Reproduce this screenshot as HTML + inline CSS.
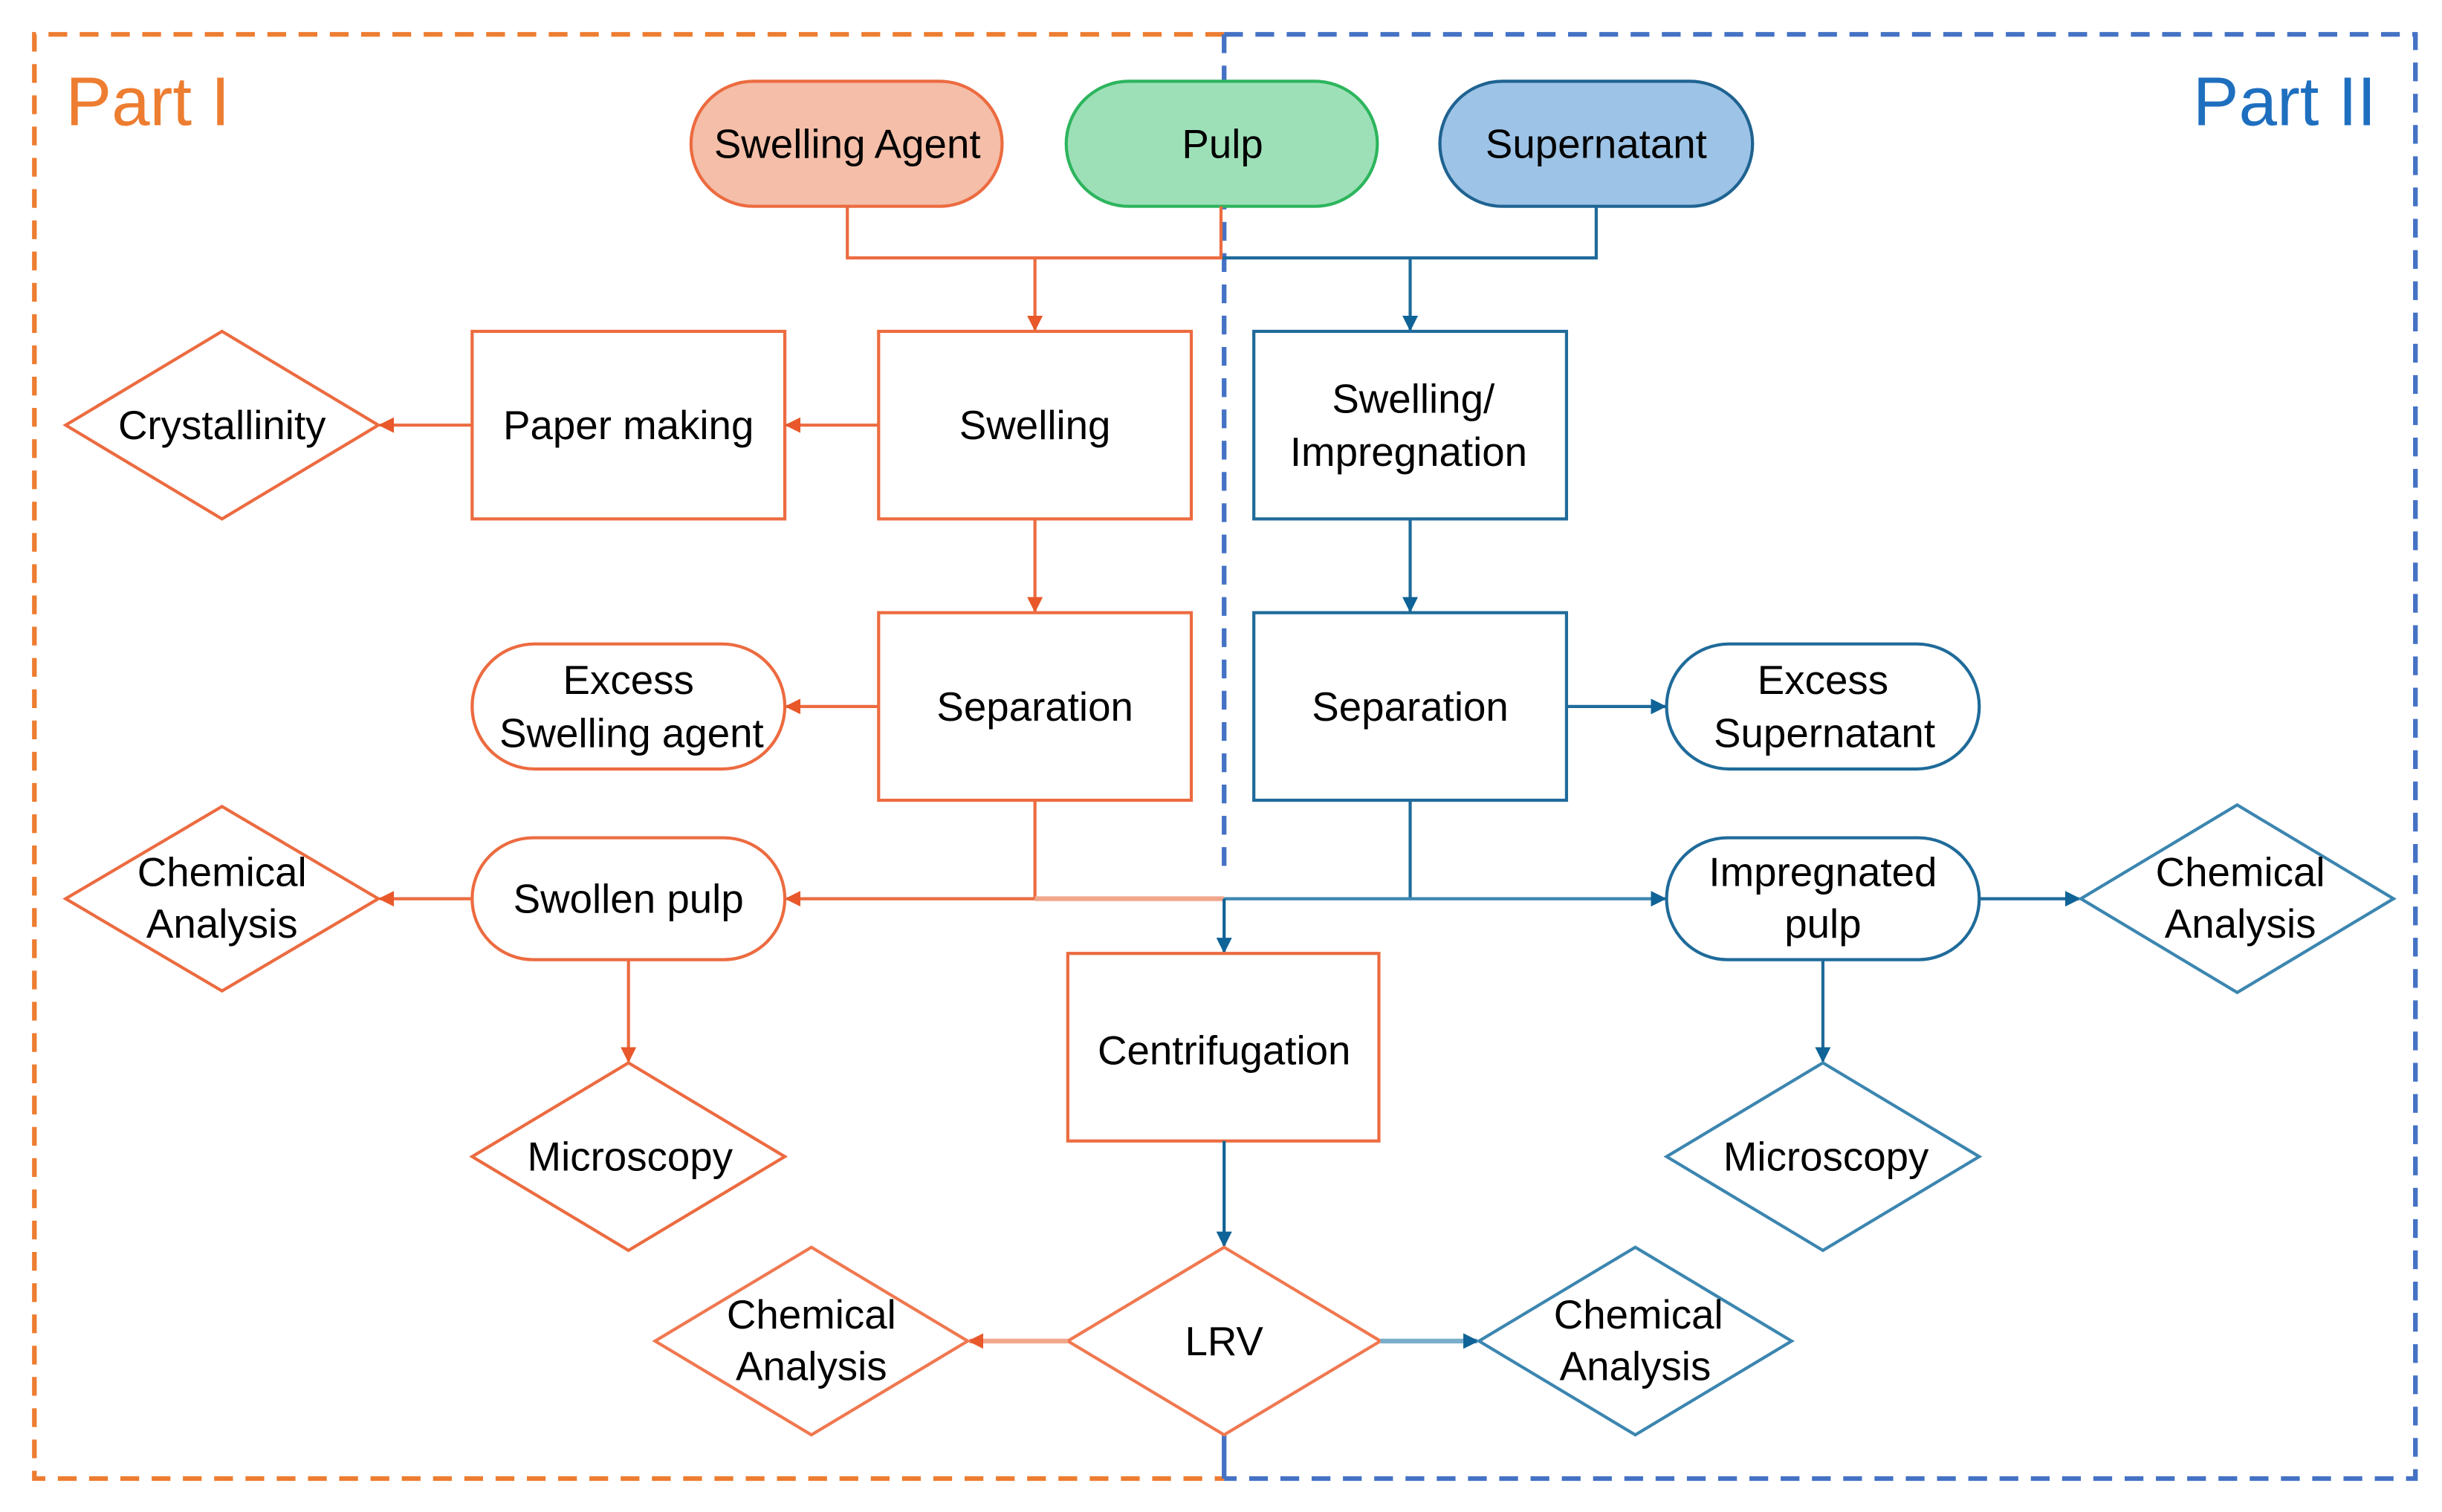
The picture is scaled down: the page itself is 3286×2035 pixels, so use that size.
<!DOCTYPE html>
<html><head><meta charset="utf-8"><style>html,body{margin:0;padding:0;background:#fff;overflow:hidden}</style></head>
<body>
<svg width="3286" height="2030" viewBox="0 0 1562 965" preserveAspectRatio="none" xmlns="http://www.w3.org/2000/svg" font-family="Liberation Sans, sans-serif">
<defs>
<marker id="ao" markerWidth="10" markerHeight="10" refX="9" refY="5" orient="auto" markerUnits="userSpaceOnUse"><path d="M0,0 L10,5 L0,10 z" fill="#E8582A"/></marker>
<marker id="ab" markerWidth="10" markerHeight="10" refX="9" refY="5" orient="auto" markerUnits="userSpaceOnUse"><path d="M0,0 L10,5 L0,10 z" fill="#0F6396"/></marker>
</defs>
<!-- frames -->
<path d="M783,22 H22 V946 H783" fill="none" stroke="#ED7D31" stroke-width="3" stroke-dasharray="12,8"/>
<path d="M783,22 H1545 V946 H783" fill="none" stroke="#4472C4" stroke-width="3" stroke-dasharray="12,8"/>
<line x1="783" y1="22" x2="783" y2="555" stroke="#4472C4" stroke-width="3" stroke-dasharray="12,8"/>
<line x1="783" y1="918" x2="783" y2="946" stroke="#4472C4" stroke-width="3"/>
<text x="42" y="80" font-size="44" fill="#ED7D31">Part I</text>
<text x="1520" y="80" font-size="44" fill="#1F6FBF" text-anchor="end">Part II</text>

<g stroke-width="2" font-size="26" text-anchor="middle" fill="#000">
<!-- top pills -->
<rect x="442" y="52" width="199" height="80" rx="40" fill="#F4BEA8" stroke="#EC6B40"/>
<text x="542" y="101" stroke="none">Swelling Agent</text>
<rect x="682" y="52" width="199" height="80" rx="40" fill="#9DE0B8" stroke="#2DB55D"/>
<text x="782" y="101" stroke="none">Pulp</text>
<rect x="921" y="52" width="200" height="80" rx="40" fill="#9DC3E6" stroke="#1F6391"/>
<text x="1021" y="101" stroke="none">Supernatant</text>

<!-- connectors top -->
<path d="M542,132 V165 H781 V132" fill="none" stroke="#EC6B40"/>
<path d="M782,165 H1021 V132" fill="none" stroke="#1F6B9A"/>
<line x1="662" y1="165" x2="662" y2="211" stroke="#EC6B40" marker-end="url(#ao)"/>
<line x1="902" y1="165" x2="902" y2="211" stroke="#1F6B9A" marker-end="url(#ab)"/>

<!-- orange boxes -->
<rect x="562" y="212" width="200" height="120" fill="#fff" stroke="#EC6B40"/>
<text x="662" y="281" stroke="none">Swelling</text>
<rect x="302" y="212" width="200" height="120" fill="#fff" stroke="#EC6B40"/>
<text x="402" y="281" stroke="none">Paper making</text>
<polygon points="42,272 142,212 242,272 142,332" fill="#fff" stroke="#EC6B40"/>
<text x="142" y="281" stroke="none">Crystallinity</text>
<line x1="562" y1="272" x2="503" y2="272" stroke="#EC6B40" marker-end="url(#ao)"/>
<line x1="302" y1="272" x2="243" y2="272" stroke="#EC6B40" marker-end="url(#ao)"/>

<line x1="662" y1="332" x2="662" y2="391" stroke="#EC6B40" marker-end="url(#ao)"/>
<rect x="562" y="392" width="200" height="120" fill="#fff" stroke="#EC6B40"/>
<text x="662" y="461" stroke="none">Separation</text>
<rect x="302" y="412" width="200" height="80" rx="40" fill="#fff" stroke="#EC6B40"/>
<text x="402" y="444" stroke="none">Excess</text>
<text x="404" y="478" stroke="none">Swelling agent</text>
<line x1="562" y1="452" x2="503" y2="452" stroke="#EC6B40" marker-end="url(#ao)"/>

<!-- blue boxes -->
<rect x="802" y="212" width="200" height="120" fill="#fff" stroke="#1F6B9A"/>
<text x="904" y="264" stroke="none">Swelling/</text>
<text x="901" y="298" stroke="none">Impregnation</text>
<line x1="902" y1="332" x2="902" y2="391" stroke="#1F6B9A" marker-end="url(#ab)"/>
<rect x="802" y="392" width="200" height="120" fill="#fff" stroke="#1F6B9A"/>
<text x="902" y="461" stroke="none">Separation</text>
<rect x="1066" y="412" width="200" height="80" rx="40" fill="#fff" stroke="#1F6B9A"/>
<text x="1166" y="444" stroke="none">Excess</text>
<text x="1167" y="478" stroke="none">Supernatant</text>
<line x1="1002" y1="452" x2="1065" y2="452" stroke="#1F6B9A" marker-end="url(#ab)"/>

<!-- middle connectors -->
<path d="M662,512 V575" fill="none" stroke="#EC6B40"/>
<line x1="662" y1="575" x2="503" y2="575" stroke="#EC6B40" marker-end="url(#ao)"/>
<line x1="662" y1="575" x2="783" y2="575" stroke="#F2A68C" stroke-width="3"/>
<path d="M902,512 V575" fill="none" stroke="#1F6B9A"/>
<line x1="783" y1="575" x2="1065" y2="575" stroke="#3C86B0" marker-end="url(#ab)"/>
<line x1="783" y1="575" x2="783" y2="609" stroke="#0F6396" marker-end="url(#ab)"/>

<!-- left lower -->
<rect x="302" y="536" width="200" height="78" rx="39" fill="#fff" stroke="#EC6B40"/>
<text x="402" y="584" stroke="none">Swollen pulp</text>
<polygon points="42,575 142,516 242,575 142,634" fill="#fff" stroke="#EC6B40"/>
<text x="142" y="567" stroke="none">Chemical</text>
<text x="142" y="600" stroke="none">Analysis</text>
<line x1="302" y1="575" x2="243" y2="575" stroke="#EC6B40" marker-end="url(#ao)"/>
<line x1="402" y1="614" x2="402" y2="679" stroke="#EC6B40" marker-end="url(#ao)"/>
<polygon points="302,740 402,680 502,740 402,800" fill="#fff" stroke="#EC6B40"/>
<text x="403" y="749" stroke="none">Microscopy</text>

<!-- right lower -->
<rect x="1066" y="536" width="200" height="78" rx="39" fill="#fff" stroke="#1F6B9A"/>
<text x="1166" y="567" stroke="none">Impregnated</text>
<text x="1166" y="600" stroke="none">pulp</text>
<line x1="1266" y1="575" x2="1330" y2="575" stroke="#1F6B9A" marker-end="url(#ab)"/>
<polygon points="1331,575 1431,515 1531,575 1431,635" fill="#fff" stroke="#3C86B0"/>
<text x="1433" y="567" stroke="none">Chemical</text>
<text x="1433" y="600" stroke="none">Analysis</text>
<line x1="1166" y1="614" x2="1166" y2="679" stroke="#1F6B9A" marker-end="url(#ab)"/>
<polygon points="1066,740 1166,680 1266,740 1166,800" fill="#fff" stroke="#3C86B0"/>
<text x="1168" y="749" stroke="none">Microscopy</text>

<!-- centrifugation -->
<rect x="683" y="610" width="199" height="120" fill="#fff" stroke="#EC6B40"/>
<text x="783" y="681" stroke="none">Centrifugation</text>
<line x1="783" y1="730" x2="783" y2="797" stroke="#0F6396" marker-end="url(#ab)"/>
<polygon points="683,858 783,798 883,858 783,918" fill="#fff" stroke="#F07850"/>
<text x="783" y="867" stroke="none">LRV</text>
<line x1="683" y1="858" x2="620" y2="858" stroke="#F2A68C" stroke-width="3" marker-end="url(#ao)"/>
<polygon points="419,858 519,798 619,858 519,918" fill="#fff" stroke="#F07850"/>
<text x="519" y="850" stroke="none">Chemical</text>
<text x="519" y="883" stroke="none">Analysis</text>
<line x1="883" y1="858" x2="945" y2="858" stroke="#7AAECB" stroke-width="3" marker-end="url(#ab)"/>
<polygon points="946,858 1046,798 1146,858 1046,918" fill="#fff" stroke="#3C86B0"/>
<text x="1048" y="850" stroke="none">Chemical</text>
<text x="1046" y="883" stroke="none">Analysis</text>
</g>
</svg>
</body></html>
